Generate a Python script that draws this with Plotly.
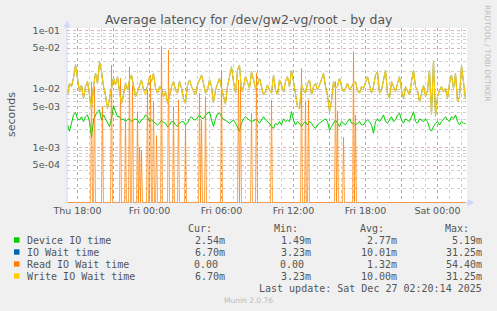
import pandas as pd
import plotly.graph_objects as go

# ---------------- data ----------------
chart_title = "Average latency for /dev/gw2-vg/root - by day"
y_title = "seconds"
series_names = ["Device IO time", "IO Wait time", "Read IO Wait time", "Write IO Wait time"]
series_colors = ["#00CC00", "#0066B3", "#FF8000", "#FFCC00"]

sample_start = "2025-12-25 17:10"      # 10-minute samples (values in ms)
sample_end = "2025-12-27 02:20"

device_io_ms = [
    2.43, 1.9, 2.6, 3.6, 3.95, 3.1, 2.95, 3.35, 2.77, 3.35,
    3.6, 2.77, 1.49, 2.95, 3.6, 4.1, 4.4, 2.95, 3.6, 3.1,
    2.77, 2.28, 3.1, 5.19, 4.1, 3.35, 3.4, 2.95, 3.1, 2.77,
    3.0, 3.1, 2.77, 2.95, 3.1, 2.95, 2.6, 2.95, 3.1, 3.6,
    3.35, 2.77, 2.95, 2.77, 2.6, 2.43, 2.6, 2.9, 2.7, 2.6,
    2.25, 2.43, 2.77, 2.77, 2.43, 2.28, 2.6, 2.77, 2.77, 2.43,
    2.6, 3.1, 3.35, 3.0, 2.95, 3.2, 3.6, 3.2, 3.1, 3.6,
    3.85, 4.1, 2.95, 2.28, 3.1, 3.75, 3.85, 3.35, 3.0, 2.9,
    2.7, 2.6, 2.77, 2.95, 2.6, 2.25, 1.9, 2.6, 3.1, 3.35,
    3.1, 2.9, 2.77, 2.9, 3.0, 2.9, 2.6, 2.95, 3.35, 2.95,
    2.77, 2.6, 2.28, 2.13, 2.6, 2.43, 2.77, 2.43, 3.1, 2.77,
    2.95, 2.77, 4.1, 2.95, 2.43, 2.77, 2.6, 2.28, 2.6, 2.77,
    2.43, 2.77, 2.6, 2.28, 2.13, 2.43, 2.6, 2.77, 2.95, 3.1,
    2.77, 1.99, 2.28, 2.6, 2.95, 2.6, 2.28, 2.77, 2.6, 2.43,
    2.77, 3.1, 2.6, 2.6, 2.43, 2.6, 2.77, 2.43, 2.43, 2.77,
    2.95, 2.77, 2.43, 1.75, 2.77, 3.1, 2.77, 3.1, 3.6, 2.77,
    2.6, 2.95, 3.35, 2.77, 2.95, 3.6, 3.85, 2.95, 2.6, 3.1,
    2.95, 2.77, 3.35, 4.1, 2.77, 2.6, 3.1, 2.95, 2.77, 3.1,
    2.77, 2.13, 1.9, 2.28, 2.6, 2.77, 2.43, 2.77, 3.1, 3.35,
    2.95, 2.77, 3.35, 3.1, 3.6, 2.77, 2.43, 2.77, 2.6, 2.54,
]

write_wait_ms = [
    7.9, 12.5, 11, 15.4, 26, 14.3, 9, 11.7, 6.9, 11,
    13.4, 7.9, 4.5, 11, 18.5, 12.5, 29.3, 19.8, 11, 7.9,
    4.6, 6.9, 10.3, 15.4, 11.7, 16.2, 9, 5.7, 7.9, 12.5,
    9.6, 14.3, 17.4, 11, 7.4, 9, 11.7, 14.3, 9.6, 7.9,
    11, 16.2, 13.4, 18.5, 10.3, 8.5, 11, 9.6, 7.4, 9,
    5.7, 7.4, 11, 13.4, 9.6, 8.5, 13.4, 10.3, 6.9, 5.7,
    11.7, 14.3, 11, 9.6, 7.9, 11.7, 14.3, 17.4, 12.5, 8.5,
    9.6, 14.3, 11, 5.8, 9.6, 12.5, 15.4, 10.3, 7.4, 5.5,
    11, 15.4, 24, 13.4, 8.5, 21, 25.7, 9, 11, 16.2,
    12.5, 10.3, 19.8, 14.3, 10.3, 11.7, 15.4, 11, 7.9, 9,
    11.7, 9.6, 8.5, 17.4, 9.6, 7.9, 14.3, 11.7, 9, 13.4,
    16.2, 11, 21.1, 13.4, 8.5, 5.0, 4.6, 11.7, 9.6, 8.5,
    12.5, 14.3, 7.9, 11, 12.5, 9.6, 11.7, 15.4, 18.5, 11,
    7.9, 4.1, 6.3, 13.4, 10.3, 11, 15.4, 11, 9, 10.3,
    12.5, 9.6, 11, 12.5, 13.4, 9.6, 8.5, 11, 10.3, 13.4,
    16.2, 11.7, 8.5, 11, 17.4, 19.8, 8.5, 9.6, 15.4, 21.1,
    8.5, 6.9, 13.4, 11, 9, 12.5, 16.2, 9.6, 6.9, 11,
    9.6, 7.9, 13.4, 21.1, 11, 9.6, 6.0, 8.5, 11.7, 7.4,
    9.6, 21.1, 3.6, 31.25, 3.4, 7.4, 9.6, 11, 9, 10.3,
    6.9, 12.5, 17.4, 10.3, 18.5, 6.0, 7.4, 25.7, 14.3, 6.7,
]

io_wait_ms = [
    7.9, 12.5, 11, 15.4, 26, 14.3, 9, 11.7, 6.9, 11,
    13.4, 7.9, 4.5, 11, 18.5, 12.5, 29.3, 19.8, 11, 7.9,
    4.6, 6.9, 10.3, 15.4, 11.7, 16.2, 9, 5.7, 7.9, 12.5,
    9.6, 14.3, 17.4, 11, 7.4, 9, 11.7, 14.3, 9.6, 9.6,
    11, 16.2, 13.4, 18.5, 10.3, 8.5, 11, 10.5, 7.4, 9,
    5.7, 7.4, 11, 13.4, 9.6, 8.5, 13.4, 10.3, 6.9, 5.7,
    11.7, 14.3, 11, 9.6, 7.9, 11.7, 14.3, 17.4, 12.5, 8.5,
    9.6, 14.3, 11, 5.8, 9.6, 12.5, 15.4, 10.3, 7.4, 5.5,
    11, 15.4, 24, 13.4, 8.5, 21, 25.7, 9, 11, 16.2,
    12.5, 10.3, 19.8, 14.3, 10.3, 11.7, 15.4, 11, 7.9, 9,
    11.7, 9.6, 8.5, 17.4, 9.6, 7.9, 14.3, 11.7, 9, 13.4,
    16.2, 11, 21.1, 13.4, 8.5, 5.0, 4.6, 11.7, 9.6, 8.5,
    12.5, 14.3, 7.9, 11, 12.5, 9.6, 11.7, 15.4, 18.5, 11,
    7.9, 4.1, 6.3, 13.4, 10.3, 11, 15.4, 11, 9, 10.3,
    12.5, 9.6, 11, 12.5, 13.4, 9.6, 8.5, 11, 10.3, 13.4,
    16.2, 11.7, 8.5, 11, 17.4, 19.8, 8.5, 9.6, 15.4, 21.1,
    8.5, 6.9, 13.4, 11, 9, 12.5, 16.2, 9.6, 6.9, 11,
    9.6, 7.9, 13.4, 21.1, 11, 9.6, 6.0, 8.5, 11.7, 7.4,
    9.6, 21.1, 3.6, 31.25, 3.4, 7.4, 9.6, 11, 9, 10.3,
    6.9, 12.5, 17.4, 10.3, 18.5, 6.0, 7.4, 25.7, 14.3, 6.7,
]

# read IO wait is zero except for short spikes (5-minute samples)
read_spike_times = [
    "2025-12-25 19:10", "2025-12-25 19:25", "2025-12-25 20:05", "2025-12-25 20:50",
    "2025-12-25 21:35", "2025-12-25 22:00", "2025-12-25 22:20", "2025-12-25 22:35",
    "2025-12-25 23:00", "2025-12-25 23:10", "2025-12-25 23:20", "2025-12-25 23:50",
    "2025-12-26 00:05", "2025-12-26 00:20", "2025-12-26 00:35", "2025-12-26 01:00",
    "2025-12-26 01:35", "2025-12-26 02:00", "2025-12-26 02:25", "2025-12-26 03:00",
    "2025-12-26 04:10", "2025-12-26 04:20", "2025-12-26 04:40", "2025-12-26 06:00",
    "2025-12-26 07:25", "2025-12-26 07:35", "2025-12-26 08:30", "2025-12-26 08:55",
    "2025-12-26 10:10", "2025-12-26 12:40", "2025-12-26 13:00", "2025-12-26 13:15",
    "2025-12-26 15:30", "2025-12-26 15:40", "2025-12-26 16:10", "2025-12-26 17:00",
    "2025-12-26 17:10",
]
read_spike_ms = [
    13.4, 11.0, 5.0, 25.7,
    15.4, 3.2, 24.0, 11.7,
    4.1, 1.0, 0.9, 9.6,
    17.4, 6.1, 1.6, 54.4,
    46.4, 5.0, 6.5, 2.3,
    8.5, 2.95, 7.4, 21.0,
    14.3, 11.0, 3.9, 18.8,
    6.5, 22.5, 6.1, 6.5,
    13.4, 4.2, 1.5, 43.5,
    3.6,
]

x_range = ["2025-12-25 17:07:30", "2025-12-27 02:27:30"]
x_tick_times = pd.date_range("2025-12-25 18:00", "2025-12-27 00:00", freq="3h")
x_tick_labels = ["Thu 18:00", "", "Fri 00:00", "", "Fri 06:00", "", "Fri 12:00", "",
                 "Fri 18:00", "", "Sat 00:00"]

y_tick_vals = [1e-1, 5e-2, 1e-2, 5e-3, 1e-3, 5e-4]
y_tick_labels = ["1e-01", "5e-02", "1e-02", "5e-03", "1e-03", "5e-04"]
y_minor_vals = [m * 10.0 ** e for e in (-4, -3, -2) for m in (2, 3, 4, 6, 7, 8, 9)]
y_log_range = [-3.9487, -0.9573]

legend_cur = ["2.54m", "6.70m", "0.00", "6.70m"]
legend_min = ["1.49m", "3.23m", "0.00", "3.23m"]
legend_avg = ["2.77m", "10.01m", "1.32m", "10.00m"]
legend_max = ["5.19m", "31.25m", "54.40m", "31.25m"]
legend_headers = ["Cur:", "Min:", "Avg:", "Max:"]
last_update = "Last update: Sat Dec 27 02:20:14 2025"
footer = "Munin 2.0.76"
side_text = "RRDTOOL / TOBI OETIKER"

# ---------------- layout geometry ----------------
W, H = 497, 311
L, R, T, B = 67, 30, 28, 108
PW, PH = W - L - R, H - T - B

def px(x):
    return (x - L) / PW

def py(y):
    return (H - B - y) / PH

# ---------------- traces ----------------
t10 = pd.date_range(sample_start, periods=len(device_io_ms), freq="10min")
t5 = pd.date_range(sample_start, sample_end, freq="5min")
read_series = pd.Series(0.0, index=t5)
for ts, v in zip(read_spike_times, read_spike_ms):
    read_series[pd.Timestamp(ts)] = v

# zero values are drawn on the bottom edge of the log axis (like rrdtool)
floor_val = 10 ** (y_log_range[0] + 0.5 * (y_log_range[1] - y_log_range[0]) / PH)

def to_s(vals):
    return [v / 1000.0 if v > 0 else floor_val for v in vals]

fig = go.Figure()
fig.add_trace(go.Scatter(x=t10, y=to_s(device_io_ms), mode="lines",
                         line=dict(color=series_colors[0], width=1), name=series_names[0]))
fig.add_trace(go.Scatter(x=t10, y=to_s(io_wait_ms), mode="lines",
                         line=dict(color=series_colors[1], width=0.8), name=series_names[1]))
fig.add_trace(go.Scatter(x=t5, y=to_s(read_series.values), mode="lines",
                         line=dict(color=series_colors[2], width=0.7), name=series_names[2]))
fig.add_trace(go.Scatter(x=t10, y=to_s(write_wait_ms), mode="lines",
                         line=dict(color=series_colors[3], width=1.1), name=series_names[3]))

major_grid = "rgba(200,110,110,0.55)"
minor_grid = "rgba(150,150,150,0.45)"
font_col = "#555555"

fig.update_layout(
    width=W, height=H,
    margin=dict(l=L, r=R, t=T, b=B, pad=0),
    paper_bgcolor="#F0F0F0", plot_bgcolor="#FFFFFF",
    showlegend=False,
    font=dict(family="DejaVu Sans", color=font_col),
    xaxis=dict(
        type="date", range=x_range,
        tickmode="array", tickvals=x_tick_times, ticktext=x_tick_labels,
        showgrid=True, gridcolor=major_grid, griddash="dot", gridwidth=1,
        ticks="", showline=False, zeroline=False,
        tickfont=dict(size=9.5, color=font_col),
        minor=dict(tickmode="linear", tick0="2025-12-25 18:00", dtick=3600000,
                   showgrid=True, gridcolor=minor_grid, griddash="dot", gridwidth=1),
    ),
    yaxis=dict(
        type="log", range=y_log_range,
        tickmode="array", tickvals=y_tick_vals, ticktext=y_tick_labels,
        showgrid=True, gridcolor=major_grid, griddash="dot", gridwidth=1,
        ticks="", showline=False, zeroline=False, ticklabelstandoff=6,
        tickfont=dict(size=9.5, color=font_col),
        minor=dict(tickmode="array", tickvals=y_minor_vals,
                   showgrid=True, gridcolor=minor_grid, griddash="dot", gridwidth=1),
    ),
)

axis_col = "#CFD6F8"
shapes = [
    dict(type="line", xref="paper", yref="paper", x0=px(67), x1=px(67), y0=py(203), y1=py(26),
         line=dict(color=axis_col, width=1)),
    dict(type="path", xref="paper", yref="paper",
         path=f"M {px(64)} {py(27)} L {px(67)} {py(21)} L {px(70)} {py(27)} Z",
         fillcolor=axis_col, line=dict(color=axis_col, width=0.5)),
    dict(type="line", xref="paper", yref="paper", x0=px(67), x1=px(469), y0=py(202.5), y1=py(202.5),
         line=dict(color=axis_col, width=1), layer="below"),
    dict(type="path", xref="paper", yref="paper",
         path=f"M {px(468)} {py(199.5)} L {px(474)} {py(202.5)} L {px(468)} {py(205.5)} Z",
         fillcolor=axis_col, line=dict(color=axis_col, width=0.5)),
]

annotations = [
    dict(text=chart_title, x=px(248.5), y=py(19), xref="paper", yref="paper",
         showarrow=False, xanchor="center", yanchor="middle",
         font=dict(size=12.5, color=font_col, family="DejaVu Sans")),
    dict(text=y_title, x=px(11), y=py(114), xref="paper", yref="paper", textangle=-90,
         showarrow=False, xanchor="center", yanchor="middle",
         font=dict(size=11, color=font_col, family="DejaVu Sans")),
    dict(text=side_text, x=px(488), y=py(53), xref="paper", yref="paper", textangle=90,
         showarrow=False, xanchor="center", yanchor="middle",
         font=dict(size=7.5, color="#BBBBBB", family="DejaVu Sans")),
    dict(text=footer, x=px(248), y=py(300.5), xref="paper", yref="paper",
         showarrow=False, xanchor="center", yanchor="middle",
         font=dict(size=7.5, color="#BBBBBB", family="DejaVu Sans")),
]

mono = dict(family="DejaVu Sans Mono", size=10, color=font_col)
col_edges = [225.5, 311.5, 397.5, 482.5]
header_y = 228.3
row_ys = [240, 252, 264, 276]

for edge, hdr in zip(col_edges, legend_headers):
    annotations.append(dict(text=hdr, x=px(edge - 12.5), y=py(header_y), xref="paper", yref="paper",
                            showarrow=False, xanchor="right", yanchor="middle", borderpad=0, font=mono))

for i, name in enumerate(series_names):
    yy = row_ys[i]
    shapes.append(dict(type="rect", xref="paper", yref="paper",
                       x0=px(14), x1=px(19.5), y0=py(yy + 2.7), y1=py(yy - 2.7),
                       fillcolor=series_colors[i], line=dict(width=0)))
    annotations.append(dict(text=name, x=px(26), y=py(yy), xref="paper", yref="paper",
                            showarrow=False, xanchor="left", yanchor="middle", borderpad=0, font=mono))
    for edge, vals in zip(col_edges, [legend_cur, legend_min, legend_avg, legend_max]):
        s = vals[i]
        e = edge if s.endswith("m") else edge - 6.02
        annotations.append(dict(text=s, x=px(e), y=py(yy), xref="paper", yref="paper",
                                showarrow=False, xanchor="right", yanchor="middle", borderpad=0, font=mono))

annotations.append(dict(text=last_update, x=px(482.5), y=py(288), xref="paper", yref="paper",
                        showarrow=False, xanchor="right", yanchor="middle", borderpad=0, font=mono))

fig.update_layout(shapes=shapes, annotations=annotations)
fig.write_html("out.html")
